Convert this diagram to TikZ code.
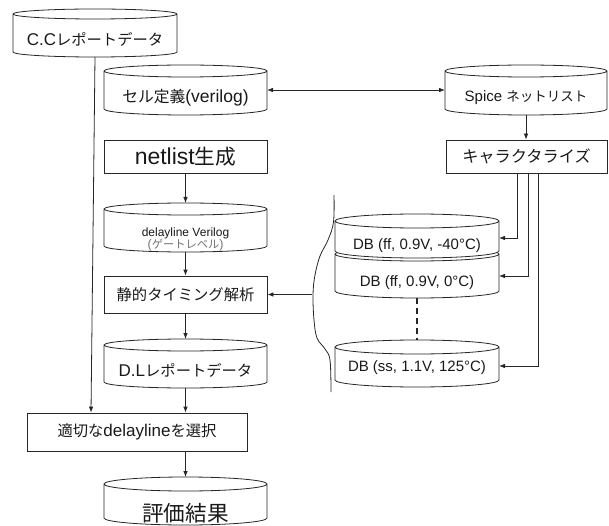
\documentclass[tikz,border=0pt]{standalone}
\usepackage{fontspec}
\setmainfont{Liberation Sans}
\newfontfamily\jp{Noto Sans CJK JP}[Scale=0.9]
\usetikzlibrary{arrows.meta,calc}
\newcommand{\fz}[1]{\fontsize{#1}{#1}\selectfont}
\tikzset{
  ln/.style={draw=black!85, line width=0.8pt},
  arr/.style={ln, -{Latex[length=6pt,width=4.6pt]}},
  darr/.style={ln, {Latex[length=6pt,width=4.6pt]}-{Latex[length=6pt,width=4.6pt]}},
  box/.style={ln, rectangle, inner sep=0pt, text=black!90},
  cylbox/.style={rectangle, inner sep=0pt, outer sep=0pt},
  txt/.style={inner sep=0pt, text=black!90, align=center},
}
\newcommand{\cyl}[7]{%
  \node[cylbox, minimum width=#3, minimum height=#4] (#1) at #2 {};
  \path[ln, fill=white] let \p1=(#1.north west), \p2=(#1.south east), \n1={(\x2-\x1)/2} in
    (\x1,\y1-#5) -- (\x1,\y2+#5) arc[start angle=180, end angle=360, x radius=\n1*1pt, y radius=#5]
    -- (\x2,\y1-#5) arc[start angle=0, end angle=180, x radius=\n1*1pt, y radius=#5] -- cycle
    (\x1,\y1-#5) arc[start angle=180, end angle=360, x radius=\n1*1pt, y radius=#5];
  \node[txt] (#1-t) at ([yshift=#6]#1.center) {#7};
}
\begin{document}
\begin{tikzpicture}[x=1pt,y=-1pt]
\useasboundingbox (0,0) rectangle (609,526);
% left column
\cyl{cc}{(95,33)}{164pt}{48pt}{5pt}{-6pt}{\fz{17}C.C{\jp レポートデータ}}
\cyl{cell}{(185.5,90)}{163pt}{50pt}{6pt}{-8pt}{\fz{17.5}{\jp セル定義}(verilog)}
\cyl{spice}{(526,90)}{162pt}{50pt}{6pt}{-8pt}{\fz{15}Spice {\jp ネットリスト}}
\node[box, minimum width=163pt, minimum height=33pt] (net) at (185.5,156.5) {\fz{23}netlist{\jp 生成}};
\node[box, minimum width=161pt, minimum height=33pt] (char) at (526.5,156.5) {\fz{18}{\jp キャラクタライズ}};
\cyl{dly}{(185.5,227.5)}{163pt}{49pt}{6pt}{-11.5pt}{\fontsize{12}{16.5}\selectfont delayline Verilog\\{\fontsize{12.5}{16.5}\selectfont\color{black!55}({\jp ゲートレベル})}}
\node[box, minimum width=163pt, minimum height=37pt] (sta) at (185.5,294.5) {\fz{17}{\jp 静的タイミング解析}};
\cyl{dl}{(185.5,363.5)}{163pt}{49pt}{6pt}{-6.5pt}{\fz{17}D.L{\jp レポートデータ}}
\node[box, minimum width=220pt, minimum height=38pt] (sel) at (137,432) {\fz{17}{\jp 適切な}delayline{\jp を選択}};
\cyl{res}{(185.5,501)}{163pt}{48pt}{7pt}{-12pt}{\fz{24}{\jp 評価結果}}
% DB stack
\cyl{db2}{(417,272.5)}{164pt}{51pt}{7pt}{-10.5pt}{\fz{15}DB (ff, 0.9V, 0°C)}
\cyl{db1}{(417,236)}{164pt}{44pt}{7pt}{-10pt}{\fz{15}DB (ff, 0.9V, -40°C)}
\cyl{db3}{(417,363.5)}{164pt}{47pt}{7pt}{-4.5pt}{\fz{15}DB (ss, 1.1V, 125°C)}
% brace
\draw[ln] plot[smooth, tension=0.6] coordinates {(334,195) (333.5,222) (328,240) (320,256) (315,275) (313,294.5) (314,320) (317,338) (325,349) (330,360) (331,392)};
\coordinate (btip) at (312,294.5);
% connectors
\draw[arr] (cc.south) -- ([xshift=-46pt]sel.north);
\draw[darr] (cell.east) -- (spice.west);
\draw[arr] (spice.south) -- (spice.south |- char.north);
\draw[arr] (net.south) -- (dly.north);
\draw[arr] (dly.south) -- (sta.north);
\draw[arr] (sta.south) -- (dl.north);
\draw[arr] (dl.south) -- (dl.south |- sel.north);
\draw[arr] (res.north |- sel.south) -- (res.north);
\draw[arr] (btip) -- (sta.east);
\draw[arr] ([xshift=-9.5pt]char.south) |- ([yshift=-2pt]db1.east);
\draw[arr] ([xshift=1.5pt]char.south) |- ([yshift=-3.5pt]db2.east);
\draw[arr] ([xshift=11.5pt]char.south) |- ([yshift=-2.5pt]db3.east);
\draw[ln, line width=1.1pt, dash pattern=on 6pt off 4pt] (db2.south) -- (db3.north);
\end{tikzpicture}
\end{document}
